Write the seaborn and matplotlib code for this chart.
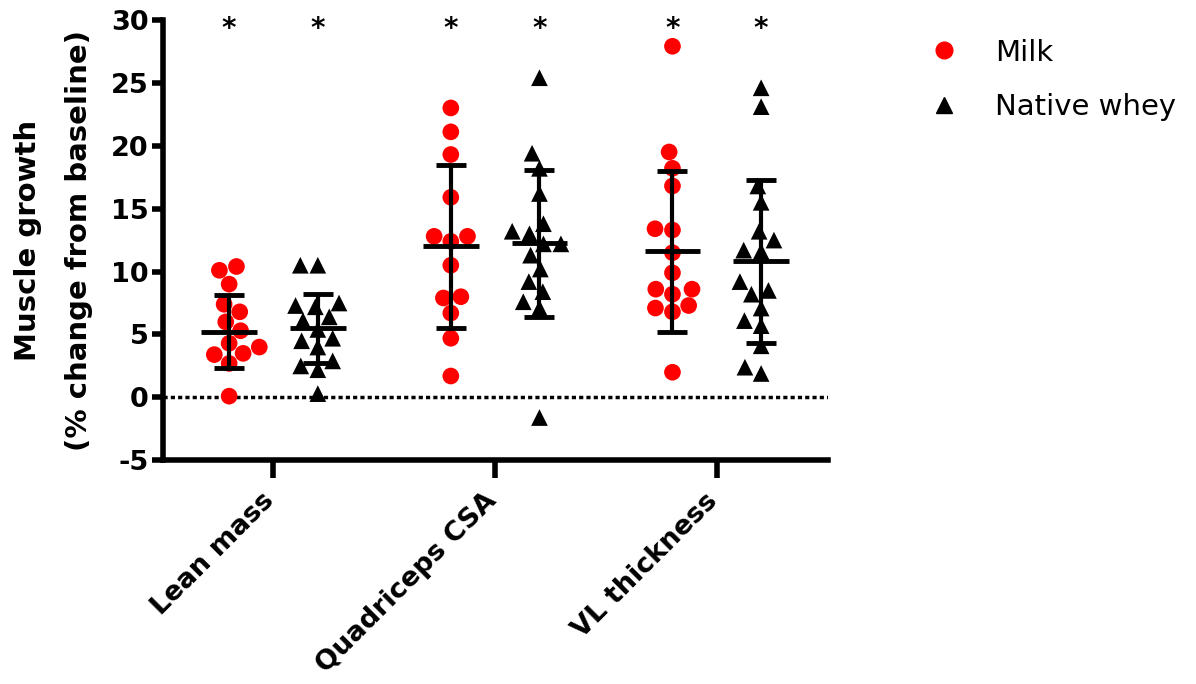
import numpy as np
import pandas as pd
import matplotlib
matplotlib.use('Agg')
import matplotlib.pyplot as plt
from matplotlib.lines import Line2D
from matplotlib.transforms import ScaledTranslation
import seaborn as sns


# values (% change from baseline)
categories = ['Lean mass', 'Quadriceps CSA', 'VL thickness']
groups = ['Milk', 'Native whey']

milk_lean = [10.1, 10.4, 9.0, 7.4, 6.8, 6.0, 5.3, 4.3, 4.0, 3.5, 3.4, 2.7, 0.1]
whey_lean = [10.5, 10.5, 7.5, 7.3, 7.2, 6.4, 6.1, 5.4, 4.7, 4.5, 4.0, 2.9, 2.5, 2.2, 0.3]
milk_quad = [23.0, 21.1, 19.3, 15.9, 12.8, 12.8, 12.4, 10.5, 8.0, 7.9, 6.7, 4.7, 1.7]
whey_quad = [25.4, 19.4, 18.2, 16.2, 13.8, 13.2, 13.0, 12.2, 12.2, 11.3, 10.2, 9.2, 8.4, 7.6, 7.1, -1.6]
milk_vl = [27.9, 19.5, 18.2, 16.8, 13.4, 13.3, 11.5, 9.9, 8.6, 8.6, 8.2, 7.3, 7.1, 6.8, 2.0]
whey_vl = [24.6, 23.1, 16.8, 15.5, 13.2, 12.5, 11.7, 11.6, 9.2, 8.5, 8.2, 7.1, 6.1, 5.7, 4.1, 2.4, 1.9]

# mean +/- SD as drawn
milk_mean = [5.2, 12.0, 11.6]
milk_sd = [2.9, 6.45, 6.4]
whey_mean = [5.5, 12.25, 10.8]
whey_sd = [2.75, 5.85, 6.5]

yticks = [-5, 0, 5, 10, 15, 20, 25, 30]

# long format table
rows = []
for cat, m, w in zip(categories, [milk_lean, milk_quad, milk_vl], [whey_lean, whey_quad, whey_vl]):
    rows += [(cat, 'Milk', v) for v in m]
    rows += [(cat, 'Native whey', v) for v in w]
df = pd.DataFrame(rows, columns=['Measure', 'Group', 'Change'])

sns.set_style('white')
plt.rcParams['font.family'] = ['DejaVu Sans']
plt.rcParams.update({'text.color': 'black', 'axes.labelcolor': 'black',
                     'xtick.color': 'black', 'ytick.color': 'black',
                     'axes.edgecolor': 'black'})

fig = plt.figure(figsize=(11.96, 6.84), dpi=100)
ax = fig.add_axes([0.136, 0.327, 0.556, 0.644])

palette = {'Milk': 'red', 'Native whey': 'black'}
markers = {'Milk': 'o', 'Native whey': '^'}
for g in groups:
    sns.swarmplot(data=df[df['Group'] == g], x='Measure', y='Change', hue='Group',
                  hue_order=groups, order=categories, dodge=True, palette=palette,
                  marker=markers[g], size=12, linewidth=0, ax=ax, legend=False, zorder=3)

# mean and SD bars
pos = np.arange(len(categories))
for off, means, sds in [(-0.2, milk_mean, milk_sd), (0.2, whey_mean, whey_sd)]:
    xs = pos + off
    ax.errorbar(xs, means, yerr=sds, fmt='none', ecolor='black', elinewidth=3,
                capsize=11, capthick=3.5, zorder=5)
    ax.hlines(means, xs - 0.125, xs + 0.125, color='black', lw=3.5, zorder=5)
    for x in xs:
        ax.text(x, 29.3, '*', ha='center', va='center', fontsize=20, fontweight='bold')

ax.axhline(0, color='black', lw=2.5, ls=(0, (1.2, 0.9)), zorder=1)

ax.set_xlim(-0.5, 2.5)
ax.set_ylim(-5, 30)
ax.set_yticks(yticks)
ax.set_yticklabels([str(t) for t in yticks], fontsize=19.5, fontweight='bold')
ax.set_xticks(pos)
ax.set_xticklabels(categories, rotation=45, ha='right', rotation_mode='anchor',
                   fontsize=19.5, fontweight='bold')
ax.set_xlabel('')
ax.set_ylabel('Muscle growth\n(% change from baseline)', fontsize=21, fontweight='bold',
              linespacing=2.05)
ax.yaxis.set_label_coords(-0.105, 0.5)

sns.despine(ax=ax)
for s in ['left', 'bottom']:
    ax.spines[s].set_linewidth(4)
ax.tick_params(axis='y', direction='out', length=8, width=4, pad=2, left=True)
ax.tick_params(axis='x', direction='out', length=13, width=4, pad=4, bottom=True)

# nudge the rotated category labels left/down (after tick_params, which resets transforms)
shift = ScaledTranslation(-12 / 100, -4 / 100, fig.dpi_scale_trans)
for lab in ax.get_xticklabels():
    lab.set_transform(lab.get_transform() + shift)

handles = [Line2D([], [], ls='none', marker='o', color='red', markersize=12),
           Line2D([], [], ls='none', marker='^', color='black', markersize=12)]
fig.legend(handles, groups, loc='upper left', bbox_to_anchor=(0.743, 0.982), frameon=False,
           fontsize=21, handletextpad=0.75, labelspacing=0.9)

fig.savefig('out.png', dpi=100)
